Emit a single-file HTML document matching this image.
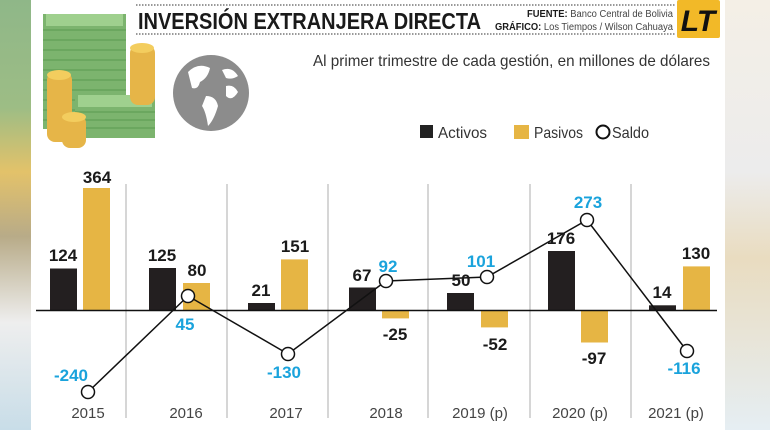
<!DOCTYPE html>
<html><head><meta charset="utf-8"><style>
body{margin:0;width:770px;height:430px;overflow:hidden;background:#fff}
svg{display:block}
text{font-family:"Liberation Sans Narrow","Liberation Sans",sans-serif}
</style></head><body>
<svg width="770" height="430" viewBox="0 0 770 430">
<defs>
<linearGradient id="lg" x1="0" y1="0" x2="0" y2="1">
<stop offset="0" stop-color="#8fb788"/><stop offset="0.25" stop-color="#9dbd85"/><stop offset="0.4" stop-color="#e3c26a"/><stop offset="0.55" stop-color="#b8ab88"/><stop offset="0.75" stop-color="#eeeeee"/><stop offset="1" stop-color="#c8dde8"/></linearGradient>
<linearGradient id="rg" x1="0" y1="0" x2="0" y2="1">
<stop offset="0" stop-color="#f4efe6"/><stop offset="0.4" stop-color="#ececec"/><stop offset="0.6" stop-color="#e9dcc0"/><stop offset="1" stop-color="#e6eef3"/></linearGradient>
</defs>
<rect x="0" y="0" width="31" height="430" fill="url(#lg)"/>
<rect x="725" y="0" width="45" height="430" fill="url(#rg)"/>
<!-- money illustration -->
<rect x="43" y="14" width="83" height="115" fill="#7cb46e"/>
<rect x="46" y="14" width="77" height="12" fill="#9fd08e"/>
<g stroke="#5a9a50" stroke-width="1">
<line x1="43" y1="30" x2="126" y2="30"/><line x1="43" y1="40" x2="126" y2="40"/><line x1="43" y1="50" x2="126" y2="50"/><line x1="43" y1="60" x2="126" y2="60"/><line x1="43" y1="70" x2="126" y2="70"/><line x1="43" y1="80" x2="126" y2="80"/><line x1="43" y1="90" x2="126" y2="90"/><line x1="43" y1="100" x2="126" y2="100"/><line x1="43" y1="110" x2="126" y2="110"/><line x1="43" y1="120" x2="126" y2="120"/></g>
<rect x="75" y="95" width="80" height="43" fill="#7cb46e"/>
<rect x="78" y="95" width="74" height="12" fill="#9fd08e"/>
<g stroke="#5a9a50"><line x1="75" y1="112" x2="155" y2="112"/><line x1="75" y1="120" x2="155" y2="120"/><line x1="75" y1="128" x2="155" y2="128"/></g>
<rect x="130" y="45" width="25" height="60" rx="8" fill="#e6b548"/>
<ellipse cx="142" cy="48" rx="12" ry="5" fill="#f3cd5e"/>
<rect x="47" y="72" width="25" height="70" rx="8" fill="#e6b548"/>
<ellipse cx="59" cy="75" rx="12" ry="5" fill="#f3cd5e"/>
<rect x="62" y="115" width="24" height="33" rx="8" fill="#e6b548"/>
<ellipse cx="74" cy="117" rx="12" ry="5" fill="#f3cd5e"/>
<circle cx="211" cy="93" r="38" fill="#8c8c8c"/>
<path d="M188 72 q10 -10 22 -4 q-2 10 -10 14 q-2 8 -8 6 z M206 96 q10 0 12 10 q-4 14 -10 20 q-2 -14 -6 -20 z M222 70 q10 -4 16 6 q-6 4 -12 2 z M226 86 q8 -2 12 6 q-6 10 -12 4 z" fill="#fff"/>
<!-- header -->
<line x1="136" y1="5" x2="676" y2="5" stroke="#333" stroke-dasharray="1.5 1.5"/>
<line x1="136" y1="34" x2="676" y2="34" stroke="#333" stroke-dasharray="1.5 1.5"/>
<text x="138" y="29" font-size="23" font-weight="bold" fill="#1a1a1a" textLength="343" lengthAdjust="spacingAndGlyphs">INVERSIÓN EXTRANJERA DIRECTA</text>
<text x="673" y="17" font-size="10" text-anchor="end" fill="#444" textLength="146" lengthAdjust="spacingAndGlyphs"><tspan font-weight="bold" fill="#1a1a1a">FUENTE:</tspan> Banco Central de Bolivia</text>
<text x="673" y="30" font-size="10" text-anchor="end" fill="#444" textLength="178" lengthAdjust="spacingAndGlyphs"><tspan font-weight="bold" fill="#1a1a1a">GRÁFICO:</tspan> Los Tiempos / Wilson Cahuaya</text>
<rect x="677" y="0" width="43" height="38" rx="2" fill="#f2b928"/>
<text x="698" y="31" font-size="30" font-family="Liberation Serif" font-weight="bold" font-style="italic" text-anchor="middle" fill="#111">LT</text>
<text x="313" y="66" font-size="16" fill="#333" textLength="397" lengthAdjust="spacingAndGlyphs">Al primer trimestre de cada gestión, en millones de dólares</text>
<!-- legend -->
<rect x="420" y="125" width="13" height="13" fill="#222"/>
<text x="438" y="138" font-size="16" fill="#333" textLength="49" lengthAdjust="spacingAndGlyphs">Activos</text>
<rect x="514" y="125" width="15" height="14" fill="#e6b544"/>
<text x="534" y="138" font-size="16" fill="#333" textLength="49" lengthAdjust="spacingAndGlyphs">Pasivos</text>
<circle cx="603" cy="132" r="6.5" fill="#fff" stroke="#111" stroke-width="2"/>
<text x="612" y="138" font-size="16" fill="#333" textLength="37" lengthAdjust="spacingAndGlyphs">Saldo</text>
<!-- dividers -->
<g stroke="#c8c8c8" stroke-width="1.5">
<line x1="126" y1="184" x2="126" y2="418"/><line x1="227" y1="184" x2="227" y2="418"/><line x1="328" y1="184" x2="328" y2="418"/><line x1="428" y1="184" x2="428" y2="418"/><line x1="530" y1="184" x2="530" y2="418"/><line x1="631" y1="184" x2="631" y2="418"/></g>
<!-- bars -->
<g fill="#231f20">
<rect x="50" y="268.5" width="27" height="41.5"/>
<rect x="149" y="268" width="27" height="42"/>
<rect x="248" y="303" width="27" height="7"/>
<rect x="349" y="287.5" width="27" height="22.5"/>
<rect x="447" y="293" width="27" height="17"/>
<rect x="548" y="251" width="27" height="59"/>
<rect x="649" y="305.3" width="27" height="4.7"/>
</g>
<g fill="#e6b544">
<rect x="83" y="188" width="27" height="122"/>
<rect x="183" y="283" width="27" height="27"/>
<rect x="281" y="259.4" width="27" height="50.6"/>
<rect x="382" y="310" width="27" height="8.4"/>
<rect x="481" y="310" width="27" height="17.4"/>
<rect x="581" y="310" width="27" height="32.5"/>
<rect x="683" y="266.4" width="27" height="43.6"/>
</g>
<line x1="36" y1="310.5" x2="717" y2="310.5" stroke="#111" stroke-width="1.5"/>
<polyline points="88,392 188,296 288,354 386,281 487,277 587,220 687,351" fill="none" stroke="#111" stroke-width="1.5"/>
<g fill="#fff" stroke="#111" stroke-width="1.5">
<circle cx="88" cy="392" r="6.5"/><circle cx="188" cy="296" r="6.5"/><circle cx="288" cy="354" r="6.5"/><circle cx="386" cy="281" r="6.5"/><circle cx="487" cy="277" r="6.5"/><circle cx="587" cy="220" r="6.5"/><circle cx="687" cy="351" r="6.5"/></g>
<!-- value labels -->
<g font-size="17" font-weight="bold" fill="#1a1a1a" text-anchor="middle">
<text x="63" y="261">124</text><text x="97" y="183">364</text>
<text x="162" y="261">125</text><text x="197" y="276">80</text>
<text x="261" y="296">21</text><text x="295" y="252">151</text>
<text x="362" y="281">67</text><text x="395" y="340">-25</text>
<text x="461" y="286">50</text><text x="495" y="350">-52</text>
<text x="561" y="244">176</text><text x="594" y="364">-97</text>
<text x="662" y="298">14</text><text x="696" y="259">130</text>
</g>
<g font-size="17" font-weight="bold" fill="#1aa3dc" text-anchor="middle">
<text x="71" y="381">-240</text><text x="185" y="330">45</text>
<text x="284" y="378">-130</text><text x="388" y="272">92</text>
<text x="481" y="267">101</text><text x="588" y="208">273</text>
<text x="684" y="374">-116</text>
</g>
<g font-size="15" fill="#444" text-anchor="middle">
<text x="88" y="418">2015</text><text x="186" y="418">2016</text><text x="286" y="418">2017</text><text x="386" y="418">2018</text><text x="480" y="418">2019 (p)</text><text x="580" y="418">2020 (p)</text><text x="676" y="418">2021 (p)</text>
</g>
</svg>
</body></html>
